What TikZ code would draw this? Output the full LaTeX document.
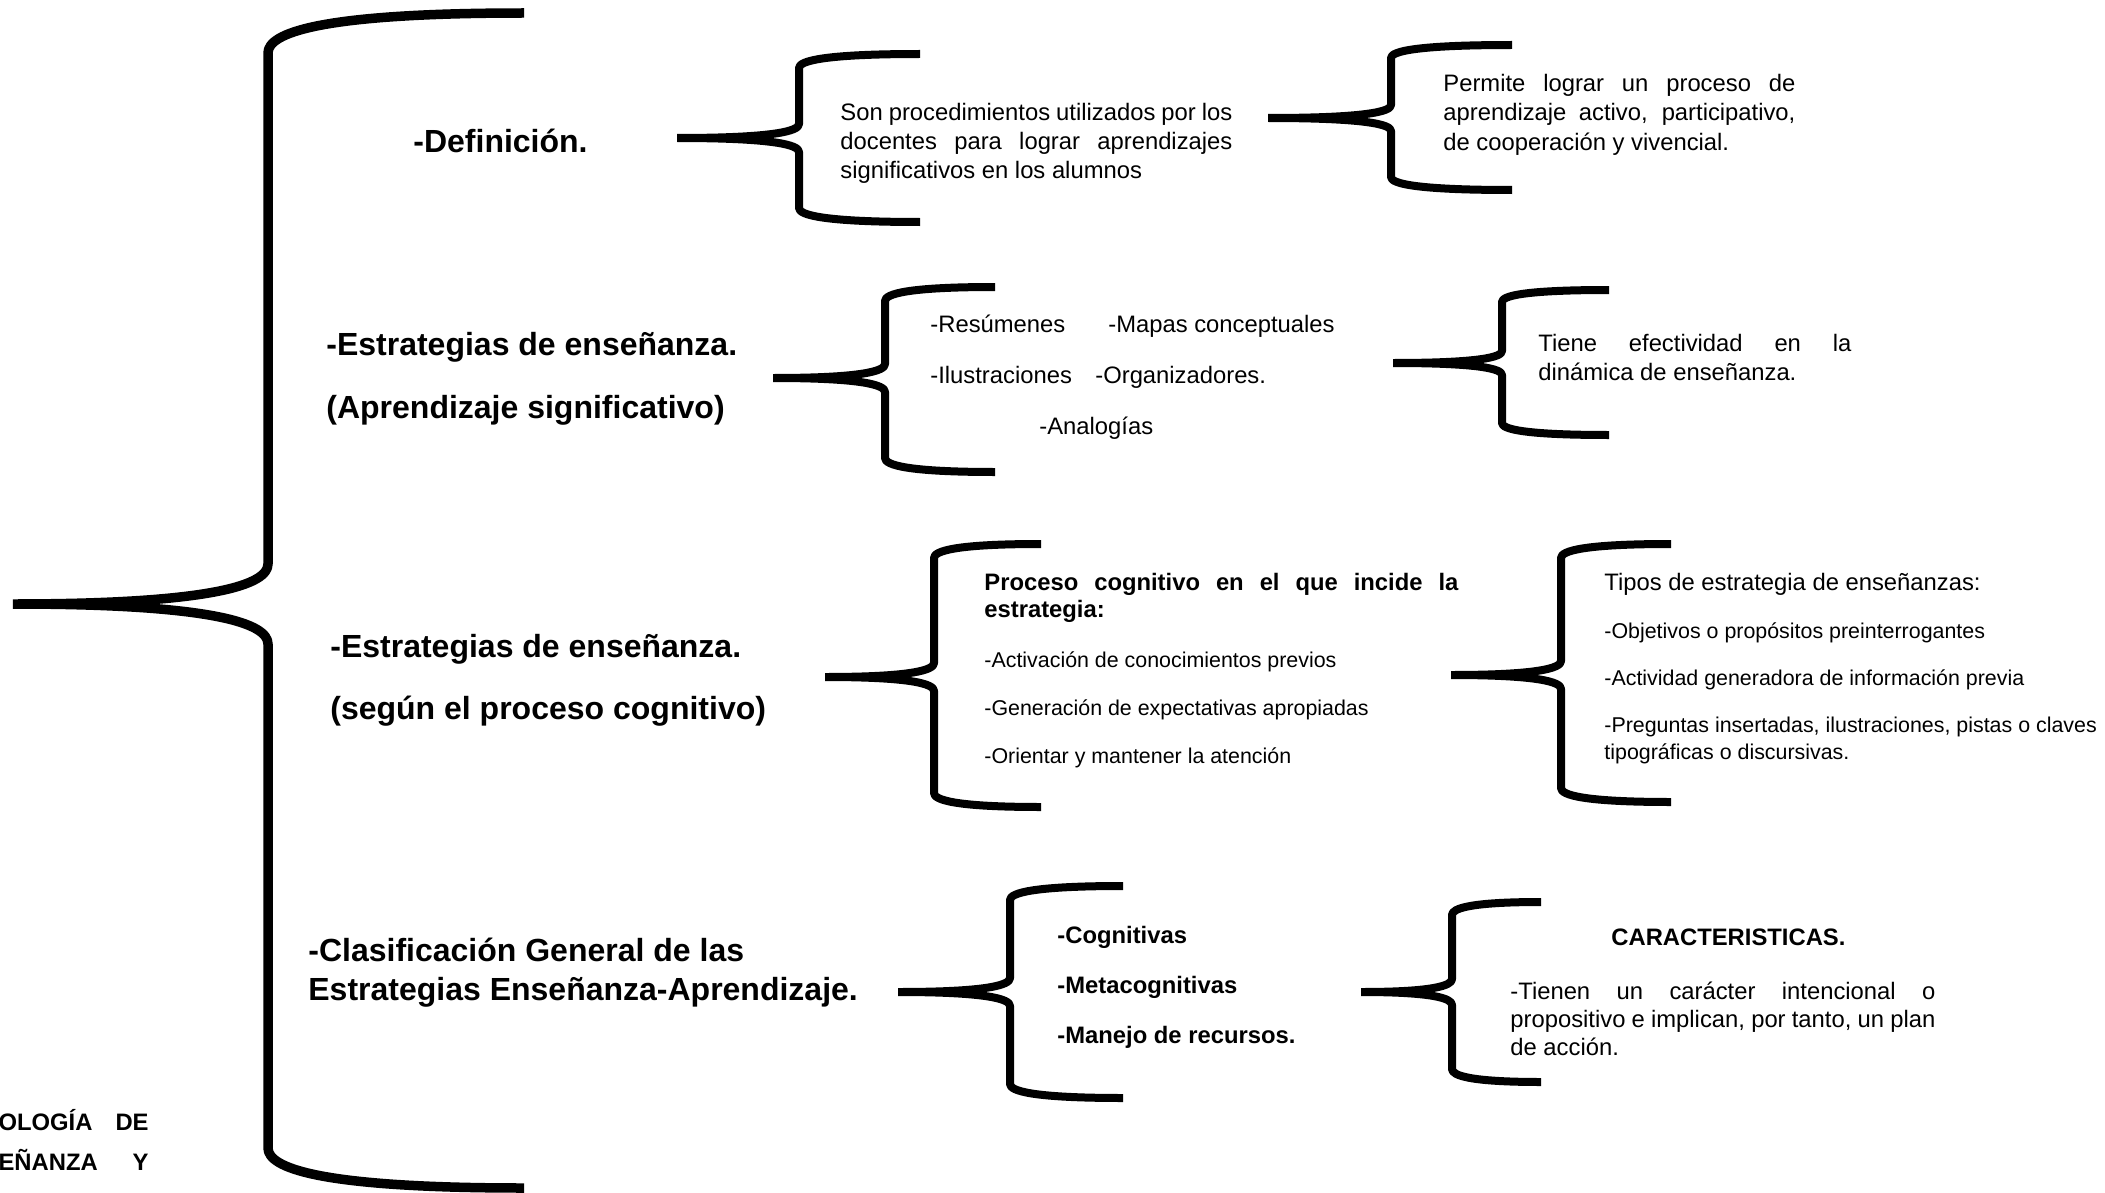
\documentclass[tikz,border=0pt]{standalone}
\usepackage{fontspec}
\setmainfont{Liberation Sans}
\newcommand\jline[2]{\makebox[#1][s]{#2}}
% #1 tip x, #2 stem x, #3 arm end x, #4 top y, #5 middle y, #6 bottom y, #7 drop, #8 style, #9 name
\newcommand\brc[9]{%
  \coordinate (#9) at (#1,#5);
  \draw[brc,#8] (#3,#4) .. controls ({#2+0.2*(#3-#2)},#4) and (#2,{#4+0.5*#7}) .. (#2,{#4+#7})
    -- (#2,{#5-#7}) .. controls (#2,{#5-0.5*#7}) and ({#2-0.2*(#2-#1)},#5) .. (#9)
    (#9) .. controls ({#2-0.2*(#2-#1)},#5) and (#2,{#5+0.5*#7}) .. (#2,{#5+#7})
    -- (#2,{#6-#7}) .. controls (#2,{#6-0.5*#7}) and ({#2+0.2*(#3-#2)},#6) .. (#3,#6);}
\tikzset{
  brc/.style={line width=4pt, line join=round},
  bigbrc/.style={line width=4.75pt},
  head/.style={anchor=base west, inner sep=0pt, font=\bfseries},
  blk/.style={anchor=base west, inner sep=0pt},
}
\begin{document}
\begin{tikzpicture}[x=0.5pt,y=-0.5pt]
\useasboundingbox[fill=white] (0,0) rectangle (2105,1193);

% braces
\brc{13}{268}{524}{13}{604}{1188}{40}{bigbrc}{b0}
\brc{677}{799}{920}{54}{138}{222}{14}{}{b1}
\brc{773}{885}{995}{287}{378}{472}{14}{}{b2}
\brc{1268}{1391}{1512}{45}{118}{190}{13}{}{b3}
\brc{1393}{1502}{1609}{290}{363}{435}{12}{}{b4}
\brc{825}{934}{1041}{544}{677}{807}{14}{}{b5}
\brc{1451}{1561}{1671}{544}{675}{802}{14}{}{b6}
\brc{898}{1010}{1123}{886}{992}{1098}{14}{}{b7}
\brc{1361}{1452}{1541}{902}{992}{1082}{13}{}{b8}

% headings
\node[head] (h1) at (413,153) {\fontsize{16}{19}\selectfont -Definición.};
\node[head] (h2) at (326,355) {\parbox[t]{260pt}{\fontsize{16}{31.5}\selectfont\bfseries
  -Estrategias de enseñanza.\\ (Aprendizaje significativo)}};
\node[head] (h3) at (330,657) {\parbox[t]{260pt}{\fontsize{16}{31}\selectfont\bfseries
  -Estrategias de enseñanza.\\ (según el proceso cognitivo)}};
\node[head] (h4) at (308,961) {\parbox[t]{300pt}{\fontsize{16}{19.5}\selectfont\bfseries
  -Clasificación General de las\\ Estrategias Enseñanza-Aprendizaje.}};

% clipped title at the left
\begin{scope}
\clip (0,0) rectangle (2105,1193);
\node[anchor=base east, inner sep=0pt] (title) at (149,1130) {\parbox[t]{75pt}{\fontsize{11.9}{20}\selectfont\bfseries
  \jline{75pt}{OLOGÍA DE}\\ \jline{75pt}{EÑANZA Y}}};
\end{scope}

% text blocks
\node[blk] (def) at (840,120) {\parbox[t]{196pt}{\fontsize{11.9}{14.7}\selectfont
  \jline{196pt}{Son procedimientos utilizados por los}\\
  \jline{196pt}{docentes para lograr aprendizajes}\\
  significativos en los alumnos}};

\node[blk] (perm) at (1443,92) {\parbox[t]{176pt}{\fontsize{11.9}{14.5}\selectfont
  \jline{176pt}{Permite lograr un proceso de}\\
  \jline{176pt}{aprendizaje activo, participativo,}\\
  de cooperación y vivencial.}};

\node[blk] (tiene) at (1538,351) {\parbox[t]{156.5pt}{\fontsize{11.9}{14.5}\selectfont
  \jline{156.5pt}{Tiene efectividad en la}\\
  dinámica de enseñanza.}};

\node[blk] (res) at (930,332) {\parbox[t]{230pt}{\fontsize{11.9}{25.5}\selectfont
  \makebox[89pt][l]{-Resúmenes}-Mapas conceptuales\\
  \makebox[82.5pt][l]{-Ilustraciones}-Organizadores.\\
  \hspace*{54.5pt}-Analogías}};

\node[blk] (proc) at (984,590) {\parbox[t]{237pt}{\fontsize{11.9}{13.5}\selectfont\bfseries
  \jline{237pt}{Proceso cognitivo en el que incide la}\\
  estrategia:\\[11.5pt]
  \fontsize{10.7}{13.5}\selectfont\mdseries
  -Activación de conocimientos previos\\[10.5pt]
  -Generación de expectativas apropiadas\\[10.5pt]
  -Orientar y mantener la atención}};

\node[blk] (tipos) at (1604,590) {\parbox[t]{250pt}{\fontsize{11.9}{13.5}\selectfont
  Tipos de estrategia de enseñanzas:\\[10.5pt]
  \fontsize{10.7}{13.5}\selectfont
  -Objetivos o propósitos preinterrogantes\\[10pt]
  -Actividad generadora de información previa\\[10pt]
  -Preguntas insertadas, ilustraciones, pistas o claves\\
  tipográficas o discursivas.}};

\node[blk] (cog) at (1057,943) {\parbox[t]{160pt}{\fontsize{11.9}{25}\selectfont\bfseries
  -Cognitivas\\ -Metacognitivas\\ -Manejo de recursos.}};

\node[blk] (car) at (1510,945) {\parbox[t]{212.5pt}{\fontsize{11.9}{14}\selectfont
  \hspace*{50.5pt}\textbf{CARACTERISTICAS.}\\[13pt]
  \jline{212.5pt}{-Tienen un carácter intencional o}\\
  \jline{212.5pt}{propositivo e implican, por tanto, un plan}\\
  de acción.}};
\end{tikzpicture}
\end{document}
